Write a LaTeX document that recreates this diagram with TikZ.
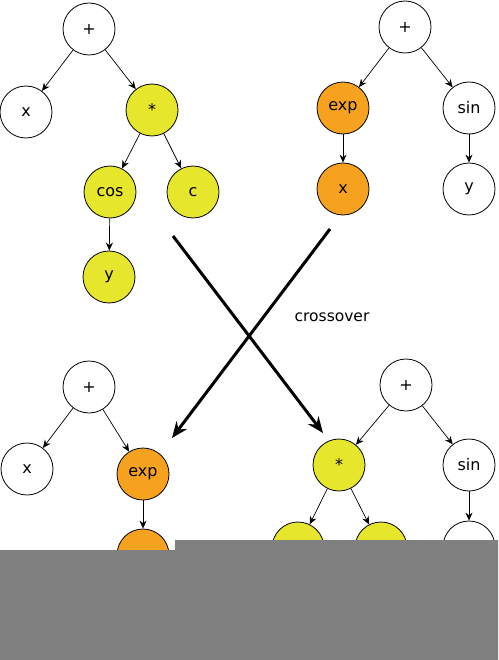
\documentclass[tikz,border=0pt]{standalone}
\usepackage{fontspec}
\setmainfont{DejaVu Sans}
\usetikzlibrary{arrows.meta}
\definecolor{tyellow}{HTML}{E6E62C}
\definecolor{torange}{HTML}{F7A21E}
\definecolor{occl}{HTML}{808080}
\tikzset{
  tn/.style={circle,draw=black,line width=0.8pt,minimum size=52pt,inner sep=0pt,font=\fontsize{16}{16}\selectfont},
  wn/.style={tn,fill=white},
  yn/.style={tn,fill=tyellow},
  on/.style={tn,fill=torange},
  ed/.style={line width=0.7pt,-{Stealth[length=8pt,width=7pt]}},
  xo/.style={line width=3pt,-{Stealth[length=16pt,width=13pt]}}
}
\begin{document}
\begin{tikzpicture}[x=1pt,y=-1pt]
\useasboundingbox (0,0) rectangle (498,660);
% top-left tree
\node[wn] (a1) at (89,29) {+};
\node[wn] (a2) at (26,112) {x};
\node[yn] (a3) at (152,110) {*};
\node[yn] (a4) at (110,192) {cos};
\node[yn] (a5) at (193,192) {c};
\node[yn] (a6) at (109,277) {y};
\draw[ed] (a1) -- (a2);
\draw[ed] (a1) -- (a3);
\draw[ed] (a3) -- (a4);
\draw[ed] (a3) -- (a5);
\draw[ed] (a4) -- (a6);
% top-right tree
\node[wn] (b1) at (405,27) {+};
\node[on] (b2) at (343,108) {exp};
\node[wn] (b3) at (469,108) {sin};
\node[on] (b4) at (343,189) {x};
\node[wn] (b5) at (469,189) {y};
\draw[ed] (b1) -- (b2);
\draw[ed] (b1) -- (b3);
\draw[ed] (b2) -- (b4);
\draw[ed] (b3) -- (b5);
% bottom-left tree
\node[wn] (c1) at (89,387) {+};
\node[wn] (c2) at (27,469) {x};
\node[on] (c3) at (143,474) {exp};
\node[on] (c4) at (143,555) {};
\draw[ed] (c1) -- (c2);
\draw[ed] (c1) -- (c3);
\draw[ed] (c3) -- (c4);
% bottom-right tree
\node[wn] (d1) at (406,385) {+};
\node[yn] (d2) at (339,465) {*};
\node[wn] (d3) at (469,465) {sin};
\node[yn] (d4) at (298,548) {};
\node[yn] (d5) at (381,548) {};
\node[wn] (d6) at (469,547) {};
\draw[ed] (d1) -- (d2);
\draw[ed] (d1) -- (d3);
\draw[ed] (d2) -- (d4);
\draw[ed] (d2) -- (d5);
\draw[ed] (d3) -- (d6);
% crossover arrows
\coordinate (s1) at (173,236);
\coordinate (e1) at (323,433);
\coordinate (s2) at (330,229);
\coordinate (e2) at (172,438);
\draw[xo] (s1) -- (e1);
\draw[xo] (s2) -- (e2);
\node[font=\fontsize{15.5}{16}\selectfont] (lbl) at (332,317) {crossover};
% occluding block
\fill[occl] (0,550) -- (175,550) -- (175,540) -- (498,540) -- (498,660) -- (0,660) -- cycle;
\end{tikzpicture}
\end{document}
